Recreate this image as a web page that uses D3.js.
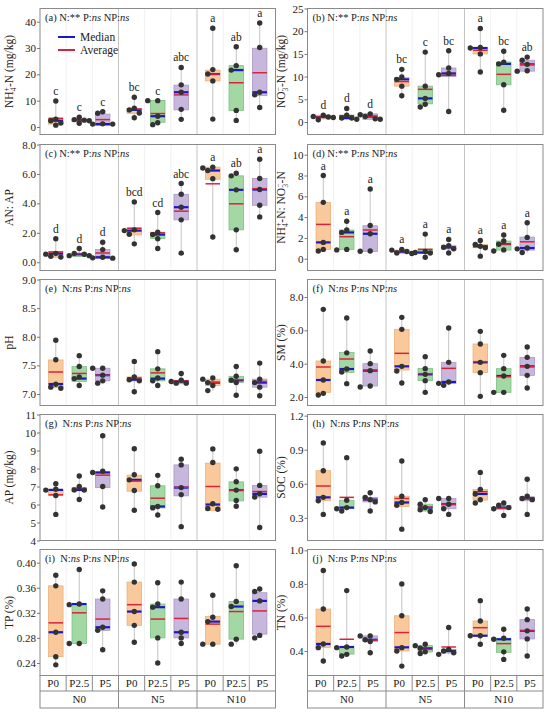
<!DOCTYPE html>
<html>
<head>
<meta charset="utf-8">
<script src="https://cdn.jsdelivr.net/npm/d3@7"></script>
<style>
body { margin: 0; background: #fff; }
text { font-family: "Liberation Serif", "Times New Roman", serif; fill: #222; }
</style>
</head>
<body>
<script>
// box plots of soil properties, N x P factorial

var groups = ["N0", "N5", "N10"];
var pLevels = ["P0", "P2.5", "P5"];

// each box: [q1, median, q3, mean]
var nh4Box = [[1.1,2.4,3.3,3.3],[2.0,2.6,2.7,2.7],[0.6,1.1,4.9,2.8],[5.2,6.5,7.1,6.8],[1.8,4.1,10.1,5.1],[6.5,13.2,15.9,12.2],[17.5,20.1,21.6,20.1],[6.3,21.6,23.3,16.8],[11.9,13.2,29.9,20.6]];
var nh4Pts = [[9.9,3.0,2.4,1.5,0.7],[3.7,2.8,2.6,2.4,1.4],[5.8,5.2,1.2,1.1,1.1],[11.3,7.1,6.5,5.3,3.5],[10.0,10.0,4.1,1.6,0.9],[22.6,16.0,13.2,6.7,2.9],[37.5,21.8,20.1,17.5,3.0],[30.5,23.3,21.6,6.3,2.5],[39.5,30.2,13.2,12.2,7.4]];
var nh4Letters = ["c","c","c","bc","c","abc","a","ab","a"];

var no3Box = [[0.7,1.1,1.5,1.1],[0.6,0.9,1.5,1.4],[0.6,1.2,1.8,1.2],[7.9,9.4,9.8,8.9],[4.0,5.2,7.9,7.2],[10.0,10.7,11.9,10.3],[15.0,16.3,16.4,15.8],[8.2,12.8,13.2,10.5],[11.2,12.7,13.6,12.7]];
var no3Pts = [[1.5,1.2,1.1,1.0,0.5],[3.0,1.5,0.9,0.9,0.6],[1.8,1.6,1.2,0.7,0.6],[11.6,9.9,9.4,7.9,5.8],[15.4,7.9,5.2,3.9,3.3],[15.7,11.9,10.7,10.4,2.3],[20.6,16.4,16.3,15.0,11.0],[15.6,13.2,12.8,8.2,2.6],[14.3,13.6,12.7,11.3,11.2]];
var no3Letters = ["d","d","d","bc","c","bc","a","bc","ab"];

var anapBox = [[0.34,0.59,0.73,0.70],[0.39,0.54,0.61,0.59],[0.25,0.34,0.86,0.63],[1.86,2.15,2.33,2.31],[1.61,1.88,2.04,2.0],[2.88,3.74,4.62,3.47],[5.64,6.23,6.46,5.33],[2.2,4.92,5.87,3.97],[3.87,4.94,5.69,5.0]];
var anapPts = [[1.6,0.6,0.55,0.4,0.35],[0.93,0.6,0.54,0.45,0.45],[1.36,0.86,0.34,0.3,0.28],[4.1,2.2,2.15,1.9,1.25],[3.38,2.04,1.88,1.6,0.93],[5.35,4.62,3.74,2.88,0.62],[6.45,6.4,6.23,5.68,1.72],[6.05,5.87,4.92,2.2,0.85],[7.0,5.69,4.94,3.87,3.08]];
var anapLetters = ["d","d","d","bcd","cd","abc","a","ab","a"];

var ratioBox = [[0.9,1.57,5.42,3.3],[0.9,2.53,2.76,2.12],[0.7,2.4,3.17,2.76],[0.51,0.67,0.83,0.7],[0.51,0.6,0.93,0.9],[0.93,1.09,1.25,1.12],[1.06,1.19,1.38,1.25],[0.83,1.41,1.7,1.41],[0.83,1.03,2.08,1.63]];
var ratioPts = [[8.0,5.42,1.57,0.9,0.75],[3.6,2.76,2.53,0.9,0.85],[6.7,3.2,2.4,0.75,0.72],[0.9,0.83,0.7,0.55,0.5],[2.37,0.7,0.6,0.55,0.15],[1.86,1.25,1.1,0.95,0.55],[1.76,1.38,1.2,1.06,0.25],[2.28,1.7,1.4,0.85,0.75],[3.46,2.05,1.03,0.95,0.6]];
var ratioLetters = ["a","a","a","a","a","a","a","a","a"];

var phBox = [[7.117,7.175,7.595,7.385],[7.22,7.27,7.48,7.36],[7.23,7.33,7.45,7.33],[7.23,7.25,7.3,7.28],[7.23,7.27,7.44,7.37],[7.18,7.22,7.24,7.23],[7.15,7.2,7.26,7.2],[7.2,7.24,7.31,7.25],[7.12,7.2,7.26,7.22]];
var phPts = [[7.94,7.6,7.17,7.12,7.1],[7.67,7.48,7.3,7.27,7.15],[7.45,7.45,7.33,7.23,7.19],[7.57,7.3,7.25,7.23,7.04],[7.74,7.44,7.28,7.23,7.15],[7.36,7.24,7.22,7.19,7.19],[7.28,7.26,7.2,7.15,7.06],[7.48,7.31,7.24,7.2,6.98],[7.54,7.26,7.2,7.12,6.97]];

var smBox = [[2.28,3.02,4.16,3.8],[3.48,3.68,4.68,4.28],[2.66,3.58,4.0,3.62],[3.62,3.84,6.06,4.62],[2.98,3.36,3.72,3.4],[2.82,2.9,4.08,3.72],[3.46,4.08,5.18,4.12],[2.28,3.26,3.7,3.22],[3.3,3.84,4.38,3.84]];
var smPts = [[7.26,4.16,3.02,2.22,2.12],[6.74,4.65,3.68,3.5,2.8],[4.76,4.0,3.58,2.66,2.6],[6.78,6.06,3.84,3.56,2.84],[4.42,3.7,3.36,2.98,2.28],[6.14,4.08,2.9,2.82,2.7],[5.94,5.18,4.08,3.46,2.04],[4.5,3.7,3.26,2.28,2.28],[5.0,4.38,3.84,3.3,2.54]];

var apBox = [[6.5,6.81,6.85,6.54],[6.76,6.81,6.93,6.89],[6.94,7.78,7.81,7.63],[6.74,7.37,7.63,7.3],[5.81,5.89,7.04,6.35],[6.48,6.94,8.2,6.96],[5.67,6.0,8.3,7.0],[6.2,6.8,7.26,6.8],[6.41,6.59,7.06,6.72]];
var apPts = [[7.15,6.85,6.8,6.5,5.45],[7.58,7.0,6.81,6.8,6.28],[9.82,7.85,7.78,7.0,5.86],[9.1,7.65,7.37,6.78,5.68],[7.62,7.04,5.89,5.81,5.42],[8.52,8.2,6.94,6.55,4.77],[9.09,8.33,6.04,5.78,5.74],[7.98,7.26,6.8,6.22,5.9],[8.96,7.06,6.6,6.41,4.72]];

var socBox = [[0.45,0.48,0.715,0.58],[0.38,0.39,0.455,0.48],[0.44,0.46,0.48,0.46],[0.40,0.435,0.49,0.47],[0.36,0.39,0.42,0.394],[0.38,0.42,0.47,0.42],[0.456,0.51,0.55,0.53],[0.375,0.39,0.41,0.385],[0.45,0.47,0.485,0.47]];
var socPts = [[0.96,0.715,0.48,0.45,0.33],[0.83,0.455,0.39,0.38,0.36],[0.52,0.48,0.46,0.44,0.36],[0.80,0.49,0.435,0.41,0.2],[0.46,0.42,0.39,0.37,0.355],[0.47,0.47,0.42,0.38,0.33],[0.7,0.55,0.51,0.46,0.43],[0.43,0.41,0.39,0.38,0.32],[0.64,0.49,0.47,0.46,0.33]];

var tpBox = [[0.25,0.289,0.363,0.304],[0.271,0.334,0.334,0.32],[0.292,0.297,0.342,0.31],[0.30,0.322,0.369,0.333],[0.28,0.329,0.334,0.31],[0.28,0.289,0.342,0.311],[0.27,0.306,0.314,0.302],[0.278,0.33,0.338,0.322],[0.286,0.339,0.352,0.323]];
var tpPts = [[0.38,0.363,0.289,0.25,0.237],[0.389,0.334,0.333,0.271,0.271],[0.355,0.342,0.297,0.292,0.261],[0.398,0.369,0.322,0.30,0.273],[0.368,0.334,0.329,0.28,0.24],[0.369,0.342,0.289,0.28,0.271],[0.348,0.313,0.306,0.27,0.27],[0.395,0.338,0.33,0.278,0.27],[0.358,0.354,0.339,0.284,0.28]];

var tnBox = [[0.422,0.442,0.65,0.547],[0.382,0.424,0.424,0.47],[0.457,0.467,0.49,0.465],[0.40,0.422,0.61,0.51],[0.394,0.416,0.432,0.41],[0.388,0.40,0.41,0.424],[0.491,0.491,0.579,0.539],[0.392,0.47,0.476,0.444],[0.472,0.52,0.587,0.52]];
var tnPts = [[0.88,0.65,0.442,0.42,0.34],[0.76,0.424,0.42,0.38,0.37],[0.49,0.49,0.467,0.457,0.39],[0.80,0.61,0.42,0.40,0.31],[0.44,0.432,0.416,0.395,0.385],[0.54,0.41,0.40,0.39,0.38],[0.70,0.579,0.491,0.491,0.44],[0.53,0.476,0.47,0.395,0.35],[0.65,0.587,0.52,0.472,0.37]];

// significance of N, P and NP in each panel
var sigN = ["**","**","**","**","ns","ns","ns","ns","ns","ns"];
var sigP = ["ns","ns","ns","ns","ns","ns","ns","ns","ns","ns"];
var sigNP = ["ns","ns","ns","ns","ns","ns","ns","ns","ns","ns"];

var panelIds = ["(a)","(b)","(c)","(d)","(e)","(f)","(g)","(h)","(i)","(j)"];
var tickSets = [[0,10,20,30,40],[0,5,10,15,20,25],[0,2,4,6,8],[0,2,4,6,8,10],[7,7.5,8,8.5,9],
                [2,4,6,8],[4,5,6,7,8,9,10,11],[0.3,0.6,0.9,1.2],[0.24,0.28,0.32,0.36,0.40],[0.4,0.6,0.8,1.0]];
var tickFormats = ["d","d",".1f","d",".1f",".1f","d",".1f",".2f",".1f"];
var yDomains = [[-2.85,45],[-2.75,25],[-0.56,8.0],[-1.13,10.98],[6.8,9.0],
                [1.49,9.05],[4,11],[0.1,1.21],[0.22,0.421],[0.254,1.005]];

// y titles as runs of text: 0 normal, 1 subscript, 2 superscript
var yTitles = [
  [["NH",0],["4",1],["+",2],["-N (mg/kg)",0]],
  [["NO",0],["3",1],["\u2212",2],["-N (mg/kg)",0]],
  [["AN: AP",0]],
  [["NH",0],["4",1],["+",2],["-N: NO",0],["3",1],["\u2212",2],["-N",0]],
  [["pH",0]],
  [["SM (%)",0]],
  [["AP (mg/kg)",0]],
  [["SOC (%)",0]],
  [["TP (%)",0]],
  [["TN (%)",0]]
];

var boxSets = [nh4Box, no3Box, anapBox, ratioBox, phBox, smBox, apBox, socBox, tpBox, tnBox];
var ptSets = [nh4Pts, no3Pts, anapPts, ratioPts, phPts, smPts, apPts, socPts, tpPts, tnPts];
var letterSets = [nh4Letters, no3Letters, anapLetters, ratioLetters, null, null, null, null, null, null];

var w = 550, h = 716;
var colX = [40, 307.5], plotW = 235.5;
var rowY = [8.5, 144.5, 279.5, 414.5, 549.5], plotH = 126;
var fills = ["#f9c99c", "#a3d8a4", "#c8b7dc"];
var edges = ["#eab07a", "#7cc080", "#ab98c8"];
var boxW = 14.5, r = 2.7;

var svg = d3.select("body").append("svg")
  .attr("width", w).attr("height", h);

var xg = d3.scaleBand().domain(groups).range([0, plotW]);
var xp = d3.scalePoint().domain(pLevels).range([0, xg.bandwidth()]).padding(0.674);

function cx(i) {
  return xg(groups[Math.floor(i / 3)]) + xp(pLevels[i % 3]);
}

// simple dodge so that touching dots are spread sideways
function dodge(vals, y) {
  var order = vals.map(function(v, i) { return i; }).sort(function(a, b) { return vals[b] - vals[a]; });
  var placed = [], out = [];
  var tries = [0, -5, 5, -10, 10];
  order.forEach(function(i) {
    var py = y(vals[i]);
    for (var t = 0; t < tries.length; t++) {
      var ok = placed.every(function(p) {
        var dx = p[0] - tries[t], dy = p[1] - py;
        return dx * dx + dy * dy >= 27;
      });
      if (ok || t == tries.length - 1) {
        placed.push([tries[t], py]);
        out[i] = [tries[t], py];
        break;
      }
    }
  });
  return out;
}

function addRuns(sel, runs, size) {
  var small = size * 0.68;
  var shift = 0, prev = 0;
  runs.forEach(function(run, k) {
    var ts = sel.append("tspan").text(run[0]);
    var target = run[1] == 1 ? size * 0.3 : (run[1] == 2 ? -size * 0.38 : 0);
    ts.attr("dy", target - shift);
    if (run[1] != 0) ts.style("font-size", small + "px");
    if (run[1] == 2 && prev == 1) ts.attr("dx", -small * 0.5);
    shift = target;
    prev = run[1];
  });
}

panelIds.forEach(function(id, k) {
  var col = k % 2, row = Math.floor(k / 2);
  var g = svg.append("g").attr("transform", "translate(" + colX[col] + "," + rowY[row] + ")");
  var y = d3.scaleLinear().domain(yDomains[k]).range([plotH, 0]);
  var boxes = boxSets[k], pts = ptSets[k], letters = letterSets[k];

  // faint lines between P slots
  for (var j = 1; j < 9; j++) {
    if (j % 3 == 0) continue;
    g.append("line").attr("x1", plotW * j / 9).attr("x2", plotW * j / 9)
      .attr("y1", 0).attr("y2", plotH).attr("stroke", "#f0f0f0").attr("stroke-width", 1);
  }
  // group separators
  groups.slice(1).forEach(function(gr) {
    g.append("line").attr("x1", xg(gr)).attr("x2", xg(gr))
      .attr("y1", 0).attr("y2", plotH).attr("stroke", "#c4c4c4").attr("stroke-width", 1);
  });

  boxes.forEach(function(b, i) {
    var c = cx(i);
    var lo = d3.min(pts[i]), hi = d3.max(pts[i]);
    g.append("line").attr("x1", c).attr("x2", c).attr("y1", y(lo)).attr("y2", y(hi))
      .attr("stroke", "#c4c4c4").attr("stroke-width", 1);
    g.append("rect").attr("x", c - boxW / 2).attr("width", boxW)
      .attr("y", y(b[2])).attr("height", Math.max(0.5, y(b[0]) - y(b[2])))
      .attr("fill", fills[i % 3]).attr("stroke", edges[i % 3]).attr("stroke-width", 0.8);
    g.append("line").attr("x1", c - boxW / 2).attr("x2", c + boxW / 2)
      .attr("y1", y(b[1])).attr("y2", y(b[1]))
      .attr("stroke", "#1818c8").attr("stroke-width", 2.2);
    g.append("line").attr("x1", c - boxW / 2).attr("x2", c + boxW / 2)
      .attr("y1", y(b[3])).attr("y2", y(b[3]))
      .attr("stroke", "#d8243a").attr("stroke-width", 1.5);
    var pos = dodge(pts[i], y);
    pos.forEach(function(p) {
      g.append("circle").attr("cx", c + p[0]).attr("cy", p[1]).attr("r", r).attr("fill", "#333");
    });
    if (letters) {
      g.append("text").attr("x", c).attr("y", y(hi) - 6)
        .attr("text-anchor", "middle").style("font-size", "11.5px").text(letters[i]);
    }
  });

  // panel title
  var t = g.append("text").attr("x", 5).attr("y", 12).style("font-size", "10.5px");
  t.append("tspan").text(id + (k >= 4 ? "\u00a0 N:" : " N:"));
  t.append("tspan").text(sigN[k]).style("font-style", sigN[k] == "ns" ? "italic" : "normal");
  t.append("tspan").text(" P:");
  t.append("tspan").text(sigP[k]).style("font-style", "italic");
  t.append("tspan").text(" NP:");
  t.append("tspan").text(sigNP[k]).style("font-style", "italic");

  if (k == 0) {
    var leg = [["Median", "#1818c8", 28.5], ["Average", "#d8243a", 41.5]];
    leg.forEach(function(l) {
      g.append("line").attr("x1", 18).attr("x2", 35).attr("y1", l[2]).attr("y2", l[2])
        .attr("stroke", l[1]).attr("stroke-width", 2);
      g.append("text").attr("x", 40).attr("y", l[2]).attr("dy", "0.35em")
        .style("font-size", "11.5px").text(l[0]);
    });
  }

  // frame
  g.append("rect").attr("width", plotW).attr("height", plotH)
    .attr("fill", "none").attr("stroke", "#8a8a8a").attr("stroke-width", 1);

  var ax = g.append("g").call(d3.axisLeft(y).tickValues(tickSets[k])
    .tickFormat(d3.format(tickFormats[k])).tickSize(3).tickPadding(1));
  ax.select(".domain").remove();
  ax.selectAll("line").attr("stroke", "#777");
  ax.selectAll("text").style("font-family", "'Liberation Serif', serif")
    .style("font-size", "11px").attr("fill", "#333");

  var yt = g.append("text")
    .attr("transform", "translate(" + (col == 0 ? -27 : -22.5) + "," + (plotH / 2) + ") rotate(-90)")
    .attr("text-anchor", "middle").style("font-size", "11.5px");
  addRuns(yt, yTitles[k], 11.5);

  // P and N strips under the last row
  if (row == 4) {
    var s = g.append("g").attr("transform", "translate(0," + plotH + ")");
    var pH = 15.5, nH = 17;
    s.append("rect").attr("width", plotW).attr("height", pH + nH)
      .attr("fill", "none").attr("stroke", "#8a8a8a");
    s.append("line").attr("x1", 0).attr("x2", plotW).attr("y1", pH).attr("y2", pH).attr("stroke", "#8a8a8a");
    groups.forEach(function(gr, gi) {
      var gx = xg(gr), gw = xg.bandwidth();
      if (gi > 0) {
        s.append("line").attr("x1", gx).attr("x2", gx).attr("y1", 0).attr("y2", pH + nH).attr("stroke", "#8a8a8a");
      }
      pLevels.forEach(function(pl, pi) {
        if (pi > 0) {
          s.append("line").attr("x1", gx + gw * pi / 3).attr("x2", gx + gw * pi / 3)
            .attr("y1", 0).attr("y2", pH).attr("stroke", "#8a8a8a");
        }
        s.append("text").attr("x", gx + gw * (pi + 0.5) / 3).attr("y", pH / 2).attr("dy", "0.36em")
          .attr("text-anchor", "middle").style("font-size", "11px").text(pl);
      });
      s.append("text").attr("x", gx + gw / 2).attr("y", pH + nH / 2).attr("dy", "0.36em")
        .attr("text-anchor", "middle").style("font-size", "11px").text(gr);
    });
  }
});
</script>
</body>
</html>
